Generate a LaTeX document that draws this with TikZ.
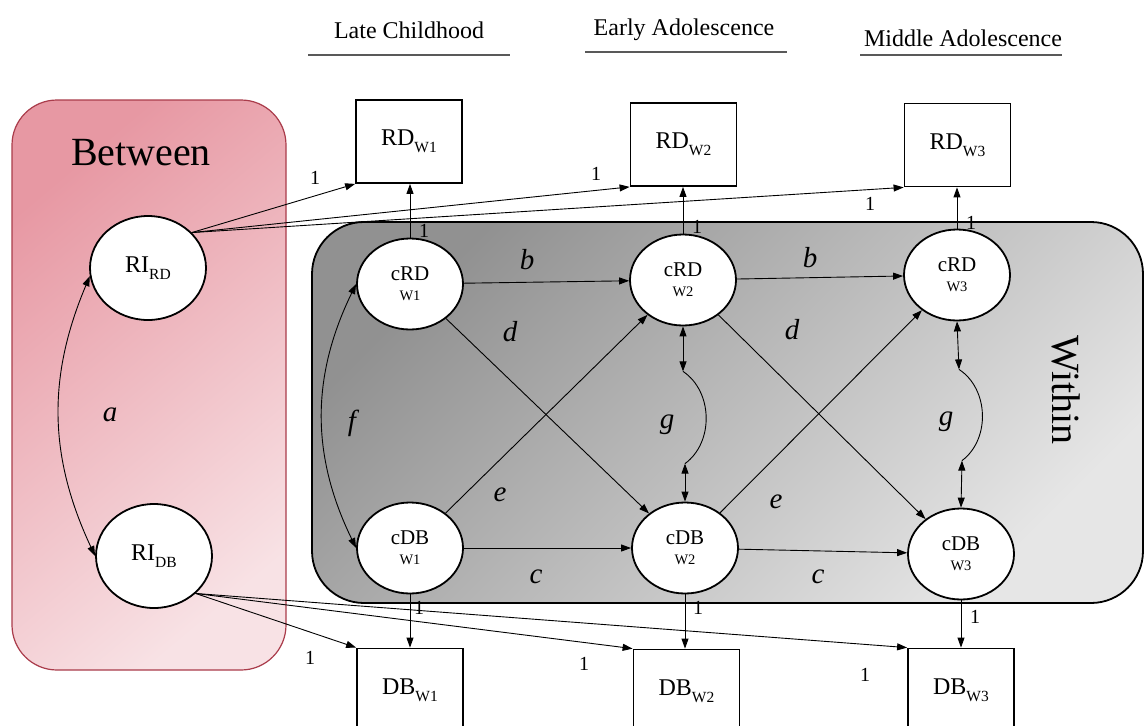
\documentclass[tikz,border=0pt]{standalone}
\usepackage{fontspec}
\setmainfont{Liberation Serif}
\usetikzlibrary{shapes.geometric,arrows.meta}
\newcommand{\fsz}[1]{\fontsize{#1}{#1}\selectfont}
\newcommand{\sbx}[1]{\raisebox{-0.28em}{\fsz{15.5}#1}}
\definecolor{pinkA}{RGB}{231,152,163}
\definecolor{pinkB}{RGB}{248,226,229}
\definecolor{pinkBorder}{RGB}{170,60,75}
\definecolor{greyA}{RGB}{145,145,145}
\definecolor{greyB}{RGB}{230,230,230}
\tikzset{
  lat/.style={ellipse, draw, line width=1.8pt, fill=white, minimum width=106pt, minimum height=91pt, inner sep=0pt, align=center, font=\fsz{21}},
  ri/.style={ellipse, draw, line width=1.8pt, fill=white, minimum width=116pt, minimum height=104pt, inner sep=0pt, font=\fsz{24}},
  obs/.style={rectangle, draw, line width=1.8pt, fill=white, minimum width=106pt, minimum height=83pt, inner sep=0pt, font=\fsz{24}},
  conn/.style={line width=0.9pt, -{Triangle[length=10pt,width=7pt]}},
  dconn/.style={line width=0.9pt, {Triangle[length=10pt,width=7pt]}-{Triangle[length=10pt,width=7pt]}},
  plain/.style={line width=0.9pt},
  coef/.style={font=\fsz{29}\itshape},
  one/.style={font=\fsz{20}},
  hdr/.style={font=\fsz{24}},
  uline/.style={draw=black!65, line width=1.5pt},
}
\begin{document}
\begin{tikzpicture}[x=1pt,y=1pt]
\useasboundingbox (0,0) rectangle (1144,-726);
\fill[white] (0,0) rectangle (1144,-726);

% headers
\node[hdr] (h1) at (409,-30) {Late Childhood};
\node[hdr] (h2) at (684,-30) {Early Adolescence};
\node[hdr] (h3) at (963,-38) {Middle Adolescence};
\draw[uline] (308,-55) -- (510,-55);
\draw[uline] (585,-52) -- (787,-52);
\draw[uline] (860,-55) -- (1062,-55);

% group boxes
\shadedraw[draw=pinkBorder, line width=1.2pt, rounded corners=45pt,
  top color=pinkA, bottom color=pinkB, shading angle=40]
  (12,-100) rectangle (286,-670);
\node[font=\fsz{40}] (btw) at (141,-153) {Between};
\shadedraw[draw=black, line width=1.8pt, rounded corners=52pt,
  top color=greyA, bottom color=greyB, shading angle=45]
  (312,-222) rectangle (1143,-603);
\node[font=\fsz{40}, rotate=-90] (wth) at (1066,-390) {Within};

% observed
\node[obs] (RD1) at (409,-141.5) {RD\sbx{W1}};
\node[obs] (RD2) at (683.5,-144.5) {RD\sbx{W2}};
\node[obs] (RD3) at (957.5,-145) {RD\sbx{W3}};
\node[obs] (DB1) at (410,-690) {DB\sbx{W1}};
\node[obs] (DB2) at (686.5,-691) {DB\sbx{W2}};
\node[obs] (DB3) at (961,-690) {DB\sbx{W3}};

% random intercepts
\node[ri] (RIRD) at (148,-268) {RI\sbx{RD}};
\node[ri] (RIDB) at (154,-556) {RI\sbx{DB}};

% within latents
\node[lat] (cRD1) at (410,-284) {cRD\\[-1pt]{\fsz{14.5}W1}};
\node[lat] (cRD2) at (683,-280) {cRD\\[-1pt]{\fsz{14.5}W2}};
\node[lat] (cRD3) at (957,-275) {cRD\\[-1pt]{\fsz{14.5}W3}};
\node[lat] (cDB1) at (410,-548) {cDB\\[-1pt]{\fsz{14.5}W1}};
\node[lat] (cDB2) at (685,-548) {cDB\\[-1pt]{\fsz{14.5}W2}};
\node[lat] (cDB3) at (961,-554) {cDB\\[-1pt]{\fsz{14.5}W3}};

% RI loadings
\coordinate (rrs) at (RIRD.39);
\coordinate (rds) at (RIDB.-42);
\draw[conn] (rrs) -- (RD1.south west);
\draw[conn] (rrs) -- (RD2.south west);
\draw[conn] (rrs) -- (RD3.south west);
\draw[conn] (rds) -- (DB1.north west);
\draw[conn] (rds) -- (DB2.north west);
\draw[conn] (rds) -- (DB3.north west);
\node[one] (l1) at (315,-178) {1};
\node[one] (l2) at (596,-174) {1};
\node[one] (l3) at (870,-204) {1};
\node[one] (l4) at (310,-658) {1};
\node[one] (l5) at (584,-664) {1};
\node[one] (l6) at (865,-675) {1};

% within loadings
\draw[conn] (cRD1.north) -- (cRD1.north |- RD1.south);
\draw[conn] (cRD2.north) -- (cRD2.north |- RD2.south);
\draw[conn] (cRD3.north) -- (cRD3.north |- RD3.south);
\draw[conn] (cDB1.south) -- (cDB1.south |- DB1.north);
\draw[conn] (cDB2.south) -- (cDB2.south |- DB2.north);
\draw[conn] (cDB3.south) -- (cDB3.south |- DB3.north);
\node[one] (w1) at (424,-231) {1};
\node[one] (w2) at (697,-227) {1};
\node[one] (w3) at (971,-223) {1};
\node[one] (w4) at (419,-608) {1};
\node[one] (w5) at (698,-608) {1};
\node[one] (w6) at (975,-617) {1};

% autoregressive
\draw[conn] (cRD1) -- (cRD2);
\draw[conn] (cRD2) -- (cRD3);
\draw[conn] (cDB1) -- (cDB2);
\draw[conn] (cDB2) -- (cDB3);
% cross-lagged
\draw[conn] (cRD1) -- (cDB2);
\draw[conn] (cDB1) -- (cRD2);
\draw[conn] (cRD2) -- (cDB3);
\draw[conn] (cDB2) -- (cRD3);

% covariances
\draw[dconn] (RIRD.188) to[bend right=24] (RIDB.west);
\draw[dconn] (cRD1.west) to[bend right=26] (cDB1.west);
\coordinate (g1a) at ([yshift=-45pt]cRD2.south);
\coordinate (g2a) at ([yshift=38pt]cDB2.north);
\coordinate (g1b) at ([xshift=2pt,yshift=-48pt]cRD3.south);
\coordinate (g2b) at ([xshift=1pt,yshift=47pt]cDB3.north);
\draw[dconn] (cRD2.south) -- (g1a);
\draw[dconn] (g2a) -- (cDB2.north);
\draw[plain] (g1a) to[bend left=55] (g2a);
\draw[dconn] (cRD3.south) -- (g1b);
\draw[dconn] (g2b) -- (cDB3.north);
\draw[plain] (g1b) to[bend left=55] (g2b);

% coefficient labels
\node[coef] (la) at (110,-415) {a};
\node[coef] (lf) at (352,-423) {f};
\node[coef] (lb1) at (527,-260) {b};
\node[coef] (lb2) at (810,-258) {b};
\node[coef] (ld1) at (510,-332) {d};
\node[coef] (ld2) at (792,-330) {d};
\node[coef] (le1) at (500,-495) {e};
\node[coef] (le2) at (776,-502) {e};
\node[coef] (lc1) at (536,-577) {c};
\node[coef] (lc2) at (818,-577) {c};
\node[coef] (lg1) at (667,-425) {g};
\node[coef] (lg2) at (946,-422) {g};
\end{tikzpicture}
\end{document}
